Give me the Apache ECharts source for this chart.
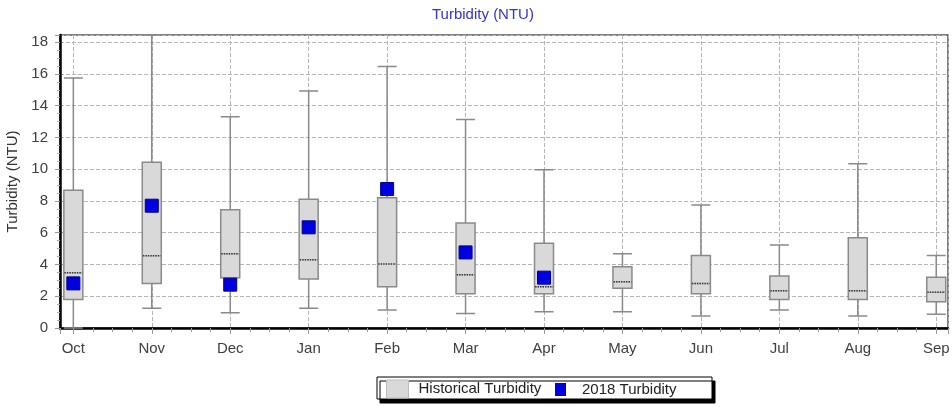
<!DOCTYPE html>
<html>
<head>
<meta charset="utf-8">
<script src="https://cdn.jsdelivr.net/npm/echarts@6/dist/echarts.min.js"></script>
<style>
  html, body { margin: 0; padding: 0; background: #fff; }
  #chart { width: 952px; height: 407px; }
</style>
</head>
<body>
<div id="chart"></div>
<script>
// months (water year Oct -> Sep)
const months = ['Oct', 'Nov', 'Dec', 'Jan', 'Feb', 'Mar', 'Apr', 'May', 'Jun', 'Jul', 'Aug', 'Sep'];

// historical turbidity: [min, Q1, median, Q3, max]
const historical = [
  [0.0, 1.80, 3.48, 8.68, 15.75],
  [1.24, 2.81, 4.55, 10.43, 18.45],
  [0.96, 3.17, 4.68, 7.45, 13.3],
  [1.24, 3.08, 4.30, 8.10, 14.93],
  [1.13, 2.60, 4.03, 8.20, 16.47],
  [0.92, 2.16, 3.36, 6.61, 13.13],
  [1.03, 2.16, 2.60, 5.33, 9.96],
  [1.03, 2.50, 2.92, 3.86, 4.68],
  [0.76, 2.16, 2.81, 4.57, 7.74],
  [1.13, 1.80, 2.35, 3.27, 5.22],
  [0.76, 1.80, 2.35, 5.68, 10.34],
  [0.86, 1.66, 2.25, 3.19, 4.57]
];

// 2018 turbidity (Oct 2017 .. Apr 2018)
const turb2018 = [2.81, 7.70, 2.73, 6.34, 8.75, 4.76, 3.17];

const yTicks = [0, 2, 4, 6, 8, 10, 12, 14, 16, 18];

const boxData = historical.map((d, i) => [i].concat(d));
const medianData = historical.map((d, i) => [i, d[2]]);
const pointData = turb2018.map((v, i) => [i, v]);

const chart = echarts.init(document.getElementById('chart'));

const font = 'Liberation Sans, Arial, sans-serif';
const boxFill = '#d9d9d9';
const boxLine = '#8a8a8a';

chart.setOption({
  animation: false,
  backgroundColor: '#fff',
  title: {
    text: 'Turbidity (NTU)',
    left: 427,
    top: 2,
    textStyle: { color: '#3535c8', fontSize: 15, fontWeight: 'normal', fontFamily: font }
  },
  grid: {
    left: 60, right: 4, top: 35, bottom: 79,
    outerBoundsMode: 'none',
    containLabel: false,
    show: true, borderColor: '#555', borderWidth: 1.5, backgroundColor: '#fff'
  },
  graphic: [{
    type: 'rect',
    shape: { x: 377, y: 377, width: 335, height: 22 },
    style: {
      fill: '#fff', stroke: '#000', lineWidth: 1,
      shadowColor: '#000', shadowOffsetX: 3, shadowOffsetY: 4, shadowBlur: 0
    },
    z: 0
  }],
  legend: [{
    data: [{
      name: 'Historical Turbidity', icon: 'rect',
      itemStyle: { color: boxFill, borderColor: '#bdbdbd', borderWidth: 1 }
    }],
    left: 386, top: 379.5, padding: 0,
    itemWidth: 22, itemHeight: 18,
    textStyle: { color: '#222', fontSize: 15, fontFamily: font, padding: [0, 0, 0, 5] },
    z: 10
  }, {
    data: [{ name: '2018 Turbidity', icon: 'rect', itemStyle: { color: '#0000e0', borderWidth: 0 } }],
    left: 555, top: 382, padding: 0,
    itemWidth: 11, itemHeight: 13,
    textStyle: { color: '#222', fontSize: 15, fontFamily: font, padding: [0, 0, 0, 11] },
    z: 10
  }],
  xAxis: {
    type: 'value',
    min: -0.17,
    max: 11.15,
    minInterval: 1,
    maxInterval: 1,
    axisLine: { show: true, onZero: false, lineStyle: { color: '#000', width: 2.5 } },
    axisTick: { show: true, length: 6, lineStyle: { color: '#999' } },
    minorTick: { show: true, splitNumber: 4, length: 4, lineStyle: { color: '#999' } },
    axisLabel: {
      margin: 13, color: '#404040', fontSize: 15, fontFamily: font,
      formatter: v => {
        const i = Math.round(v);
        return Math.abs(v - i) < 1e-6 ? (months[i] || '') : '';
      }
    },
    splitLine: { show: true, lineStyle: { color: '#b5b5b5', type: [4, 2], width: 1 } }
  },
  yAxis: {
    type: 'value',
    min: 0,
    max: 18.45,
    interval: 2,
    name: 'Turbidity (NTU)',
    nameLocation: 'middle',
    nameGap: 34,
    nameTextStyle: { color: '#333', fontSize: 15, fontFamily: font },
    axisLine: { show: true, onZero: false, lineStyle: { color: '#000', width: 2.5 } },
    axisTick: { show: true, length: 5, lineStyle: { color: '#999' } },
    minorTick: { show: true, splitNumber: 4, length: 3, lineStyle: { color: '#aaa' } },
    axisLabel: {
      margin: 12, color: '#404040', fontSize: 15, fontFamily: font,
      formatter: v => (yTicks.indexOf(v) >= 0 ? String(v) : '')
    },
    splitLine: { show: true, lineStyle: { color: '#b5b5b5', type: [4, 2], width: 1 } }
  },
  series: [{
    name: 'Historical Turbidity',
    type: 'boxplot',
    data: boxData,
    boxWidth: [19, 19],
    itemStyle: { color: boxFill, borderColor: boxLine, borderWidth: 1.5 },
    z: 2
  }, {
    // dotted median line drawn over the box
    name: 'median',
    type: 'custom',
    data: medianData,
    encode: { x: 0, y: 1 },
    renderItem: (params, api) => {
      const p = api.coord([api.value(0), api.value(1)]);
      const hw = 9;
      return {
        type: 'group',
        children: [{
          type: 'line',
          shape: { x1: p[0] - hw, y1: p[1], x2: p[0] + hw, y2: p[1] },
          style: { stroke: boxFill, lineWidth: 2 }
        }, {
          type: 'line',
          shape: { x1: p[0] - hw, y1: p[1], x2: p[0] + hw, y2: p[1] },
          style: { stroke: '#333', lineWidth: 1.5, lineDash: [1.5, 1] }
        }]
      };
    },
    z: 3
  }, {
    name: '2018 Turbidity',
    type: 'scatter',
    data: pointData,
    symbol: 'rect',
    symbolSize: 13,
    itemStyle: { color: '#0000e0', borderColor: '#00008a', borderWidth: 1, opacity: 1 },
    z: 4
  }]
});
</script>
</body>
</html>
